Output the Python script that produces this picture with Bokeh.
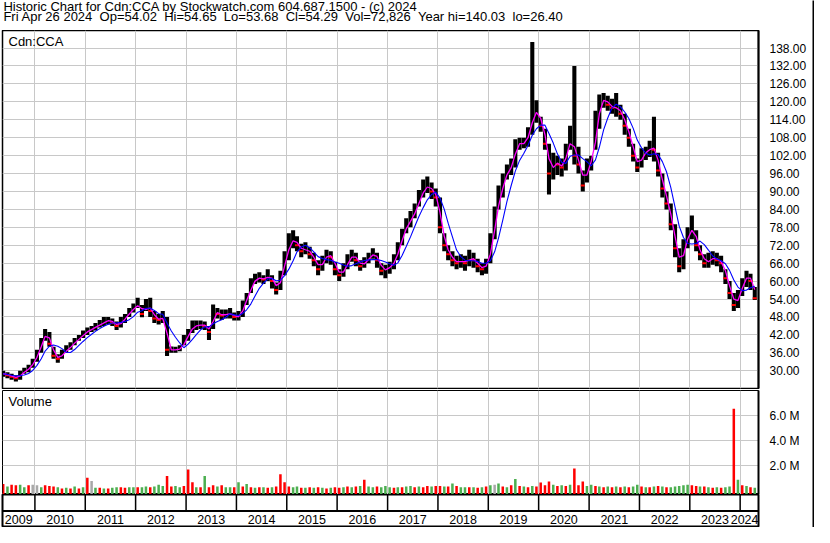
import numpy as np
import pandas as pd
from bokeh.plotting import figure
from bokeh.layouts import column, row
from bokeh.models import (ColumnDataSource, Range1d, FixedTicker, PrintfTickFormatter,
                          Label, Span, Grid)
from bokeh.core.properties import value
from bokeh.embed import file_html
from bokeh.resources import INLINE

# ---------------- data (monthly) ----------------
first_month = "2009-05-01"
last_month = "2024-04-01"

close = [
    29, 28.5, 28, 27.5, 29, 30, 31, 33,
    36, 40, 43, 39, 35, 34, 36, 37, 38.5, 40, 41, 42.5,
    43.5, 44, 45, 45.5, 46.5, 47, 46, 45, 46.5, 48, 50, 51,
    52.5, 49, 52, 50, 47.5, 47, 48, 37, 37, 37, 37.5, 40,
    43, 45, 45, 45.5, 45, 43, 50, 49, 48.5, 49, 49, 48,
    48, 52, 55, 59, 61, 61, 60.5, 62, 60, 57, 62, 68,
    73, 74, 72, 70, 71, 69, 67, 64, 67, 69, 68, 64,
    62, 64, 67, 69, 67, 65, 66.5, 68, 69.5, 67, 63.5, 64,
    65, 67, 71, 76, 79, 81, 84, 88, 91, 92, 90, 88,
    78, 72, 69, 67, 66, 67, 66, 68, 67, 65, 64, 66,
    72, 82, 88, 94, 97, 99, 106, 106, 106, 110, 116, 117,
    112, 106, 96, 100, 99, 98, 104, 108, 102, 99, 92, 99,
    101, 112, 120, 121, 119, 118, 118, 116, 112, 108, 102, 98,
    103, 103, 105, 104, 97, 91, 86, 79, 71, 65, 72, 76,
    78, 72, 69, 66, 67, 68, 67, 66, 61, 56, 52, 55,
    60, 62, 60, 54.29,
]
high = [
    30, 29.5, 29, 28.5, 30, 31, 32, 34,
    37, 41, 44, 43, 38, 35.5, 37, 38.5, 39.5, 41, 42, 43.5,
    44.5, 45, 46, 47, 48, 48, 47.5, 46.5, 48, 49, 51, 52.5,
    54.4, 52, 54, 54.4, 50, 49, 50, 48, 38.1, 38, 38.5, 42,
    44, 46.8, 46.8, 46.8, 46.5, 45, 52.2, 51, 50.5, 50.5, 51, 49.5,
    50, 53.5, 56, 61, 62.5, 63, 62, 64, 62, 59.5, 63.5, 70,
    76, 77, 75, 72.5, 73, 71.5, 69.5, 67, 68.5, 70.5, 70, 66.5,
    64, 66, 69, 70.5, 69.5, 67, 68, 69.5, 71, 69.5, 66, 65.5,
    66.5, 69, 73, 77.5, 81, 83.5, 86, 90.5, 94, 95, 93, 91,
    88, 76, 72, 70, 68.5, 69, 68.5, 70.5, 69.5, 67.5, 66, 67.5,
    76, 85, 92, 96, 99, 101, 107.5, 108, 108, 111.5, 140.03, 120.5,
    115, 111, 106, 103, 102, 101, 106, 112, 132, 105, 97, 101,
    102, 117, 122.5, 123, 122, 121, 123, 119, 116, 111, 106, 101,
    104.5, 105, 107, 115, 103, 96, 90, 86, 79, 71, 74, 78,
    82, 77, 72, 69, 69.5, 70, 69.5, 68.5, 64, 60, 56, 57,
    61, 63.5, 62.5, 58,
]
low = [
    28, 27.5, 27, 26.4, 27, 29, 29.5, 31,
    33, 36, 40, 38, 34, 32.7, 34, 36, 37, 38.5, 40, 41,
    42, 43, 43.5, 44.5, 45, 45.5, 45, 43.6, 44.5, 46, 48, 49.5,
    51, 47.9, 50, 48, 46, 45.5, 46, 34.9, 36, 36, 36.5, 38.5,
    40, 42.6, 43.6, 44, 43.6, 40.3, 44, 47.5, 47, 47.5, 47.5, 46.8,
    46.8, 48, 52, 56, 59, 59.5, 59, 60, 57.5, 55.5, 57, 62,
    67, 71, 70, 68, 69, 67.5, 65, 62, 63.5, 66, 65.5, 62,
    60, 61.5, 64, 66.5, 65, 63.5, 64.5, 66, 67.5, 64.5, 62, 61,
    62.5, 64, 67, 72, 76, 78, 81, 85, 88, 89.5, 87.5, 85,
    76, 70, 67, 65, 64, 64.5, 63.5, 65, 64.5, 63, 62, 62.5,
    66, 74, 84, 88, 94, 95.5, 98, 104, 104.5, 105, 109, 113,
    110, 104, 89, 94, 95.5, 95, 97, 104, 99, 96, 90, 93,
    97, 104, 111, 118, 117, 116, 115, 114, 109, 105, 100, 96.5,
    98, 100.5, 101.5, 100, 95, 88, 84, 77, 68, 63, 64, 71,
    74, 70, 67, 64.5, 64.5, 65.5, 65, 63, 59, 54, 50, 51,
    55, 58, 57, 53.68,
]
volume_m = [
    0.55, 0.35, 0.5, 0.45, 0.5, 0.3, 0.45, 0.5,
    0.45, 0.3, 0.45, 0.4, 0.35, 0.3, 0.2, 0.25, 0.2, 0.35, 0.2, 0.3,
    1.05, 0.8, 0.25, 0.25, 0.2, 0.2, 0.25, 0.3, 0.3, 0.25, 0.3, 0.3,
    0.3, 0.3, 0.35, 0.3, 0.35, 0.5, 0.4, 1.2, 0.35, 0.4, 0.3, 0.4,
    1.7, 0.7, 0.3, 0.3, 1.2, 0.3, 0.45, 0.35, 0.45, 0.3, 0.3, 0.3,
    0.7, 0.35, 0.55, 0.3, 0.25, 0.3, 0.3, 0.25, 0.3, 0.35, 1.34, 0.7,
    0.35, 0.3, 0.35, 0.25, 0.25, 0.3, 0.25, 0.3, 0.25, 0.2, 0.25, 0.3,
    0.25, 0.3, 0.35, 0.3, 0.35, 0.4, 0.9, 0.35, 0.3, 0.35, 0.3, 0.4,
    0.3, 0.25, 0.3, 0.3, 0.35, 0.4, 0.3, 0.35, 0.3, 0.4, 0.35, 0.4,
    0.4, 0.35, 0.35, 0.6, 0.4, 0.3, 0.3, 0.3, 0.3, 0.25, 0.3, 0.35,
    0.45, 0.5, 0.6, 0.35, 0.3, 0.45, 0.95, 0.4, 0.35, 0.3, 0.4, 0.35,
    0.67, 0.45, 0.76, 0.5, 0.4, 0.45, 0.4, 0.5, 1.78, 0.45, 0.75, 0.4,
    0.5, 0.4, 0.35, 0.3, 0.35, 0.3, 0.35, 0.3, 0.35, 0.3, 0.35, 0.5,
    0.35, 0.3, 0.3, 0.35, 0.4, 0.35, 0.3, 0.3, 0.35, 0.4, 0.45, 0.5,
    0.45, 0.4, 0.35, 0.35, 0.3, 0.25, 0.3, 0.25, 0.3, 0.35, 6.54, 0.9,
    0.45, 0.4, 0.3, 0.25,
]
# u = up-day volume (green), d = down-day volume (red), n = unchanged (grey)
volume_dir = [
    "dudduudn",
    "nudddudududu", "dnududuudduu", "duuduuudduud", "ddududduduud",
    "udududududdd", "duududududud", "dudududuuduu", "ududuududdud",
    "dududuududud", "unududududud", "dddudududddu", "udududududuu",
    "dudududuuuuu", "ddudududuudu", "dudu",
]

price_ticks = [30, 36, 42, 48, 54, 60, 66, 72, 78, 84, 90, 96, 102, 108, 114, 120, 126, 132, 138]
volume_ticks = [2, 4, 6]
years = list(range(2009, 2025))

title_1 = "Historic Chart for Cdn:CCA by Stockwatch.com 604.687.1500 - (c) 2024"
title_2_fields = ["Fri Apr 26 2024", "Op=54.02", "Hi=54.65", "Lo=53.68", "Cl=54.29",
                  "Vol=72,826", "Year hi=140.03", "lo=26.40"]

# ---------------- derived ----------------
months = pd.date_range(first_month, last_month, freq="MS")
n = len(months)
vdir = "".join(volume_dir)
assert len(close) == n and len(high) == n and len(low) == n and len(volume_m) == n and len(vdir) == n

def ms(t):
    return pd.Timestamp(t).value / 1e6

DAY = 86400000.0
xc = (months + pd.Timedelta(days=15)).asi8 / 1e6
bar_w = 0.97 * 30.44 * DAY

x_start = ms("2009-05-11")
x_end = ms("2024-05-13")
year_ms = [ms(f"{y}-01-01") for y in years[1:]]

closes = pd.Series(close, dtype=float)
ma_fast = closes.rolling(2, min_periods=1).mean()
ma_slow = closes.rolling(5, min_periods=1).mean()
down = closes < closes.shift(1)

FONT = "Liberation Sans"
GRID = "#c8c8c8"
W = 812
LEFT = 2
RIGHT = 54

def base(height, yr, top=0, bottom=0, yaxis=True):
    f = figure(width=W, height=height, x_range=Range1d(x_start, x_end), y_range=yr,
               output_backend="svg", toolbar_location=None,
               x_axis_location=None, y_axis_location="right" if yaxis else None,
               min_border_left=LEFT, min_border_right=RIGHT,
               min_border_top=top, min_border_bottom=bottom)
    f.grid.grid_line_color = None
    f.outline_line_color = "black"
    f.outline_line_width = 1
    f.background_fill_color = "white"
    f.border_fill_color = "white"
    return f

def style_axis(f, ticks, fmt):
    ax = f.yaxis[0]
    ax.ticker = FixedTicker(ticks=ticks)
    ax.formatter = PrintfTickFormatter(format=fmt)
    ax.axis_line_color = "black"
    ax.axis_line_width = 2
    ax.major_tick_line_color = None
    ax.minor_tick_line_color = None
    ax.major_label_text_font = FONT
    ax.major_label_text_font_size = "12px"
    ax.major_label_text_color = "black"
    ax.major_label_standoff = 5
    f.add_layout(Grid(dimension=1, ticker=FixedTicker(ticks=ticks), grid_line_color=GRID))
    f.add_layout(Grid(dimension=0, ticker=FixedTicker(ticks=year_ms), grid_line_color=GRID))

# ---------------- header ----------------
head = figure(width=W, height=30, x_range=Range1d(0, W), y_range=Range1d(30, 0),
              output_backend="svg", toolbar_location=None,
              x_axis_location=None, y_axis_location=None,
              min_border_left=0, min_border_right=0, min_border_top=0, min_border_bottom=0)
head.grid.grid_line_color = None
head.outline_line_color = None
# two-space separated fields (the second space is non-breaking so it survives in SVG)
title_2 = " \u00a0".join(title_2_fields)
for txt, yy in [(title_1, 5.5), (title_2, 15.8)]:
    head.add_layout(Label(x=1, y=yy, text=txt, text_font=FONT, text_font_size="13px",
                          text_color="black", text_baseline="middle", text_align="left"))

# ---------------- price panel ----------------
p = base(359, Range1d(24.06, 143.88), top=0, bottom=1)
p.outline_line_width = 1.5
style_axis(p, price_ticks, "%.2f")
src = ColumnDataSource(dict(x=xc, h=high, l=low, c=close, f=ma_fast, s=ma_slow))
p.vbar(x="x", width=bar_w, bottom="l", top="h", source=src, fill_color="black", line_color=None)
dsrc = ColumnDataSource(dict(x0=xc[down.values] - bar_w / 2, x1=xc[down.values] + bar_w / 2,
                             c=closes[down].values))
p.segment(x0="x0", x1="x1", y0="c", y1="c", source=dsrc, line_color="#ff0000", line_width=2)
p.line("x", "f", source=src, line_color="#ff00ff", line_width=1.3)
p.line("x", "s", source=src, line_color="#0000ff", line_width=1.1)
p.add_layout(Label(x=x_start, y=143.88, x_offset=6, y_offset=-3, text="Cdn:CCA",
                   text_font=FONT, text_font_size="13px", text_color="black",
                   text_baseline="top"))

# ---------------- volume panel ----------------
vmin = -0.28
v = base(105, Range1d(vmin, 7.99), top=1, bottom=0)
style_axis(v, volume_ticks, "%.1f M")
col_map = {"u": "#4caf50", "d": "#ff0000", "n": "#a8a8a8"}
vsrc = ColumnDataSource(dict(x=xc, v=volume_m, c=[col_map[d] for d in vdir]))
v.vbar(x="x", width=0.6 * 30.44 * DAY, bottom=vmin, top="v", source=vsrc,
       fill_color="c", line_color=None)
v.add_layout(Label(x=x_start, y=7.99, x_offset=6, y_offset=-3, text="Volume",
                   text_font=FONT, text_font_size="13px", text_color="black",
                   text_baseline="top"))

# ---------------- year strip ----------------
s = base(33, Range1d(0, 1), top=0, bottom=0, yaxis=False)
s.outline_line_width = 2
split = 0.5
s.add_layout(Span(location=split, dimension="width", line_color="black", line_width=2))
s.segment(x0=year_ms, x1=year_ms, y0=[split] * len(year_ms), y1=[1] * len(year_ms),
          line_color="black", line_width=1.5)
mids, aligns = [], []
for y in years:
    a = max(ms(f"{y}-01-01"), x_start)
    b = min(ms(f"{y + 1}-01-01"), x_end)
    if b == x_end:
        mids.append(b)
        aligns.append("right")
    else:
        mids.append((a + b) / 2)
        aligns.append("center")
ysrc = ColumnDataSource(dict(x=mids, y=[split / 2] * len(mids), t=[str(y) for y in years], a=aligns))
s.text(x="x", y="y", text="t", source=ysrc, text_align="a",
       text_font=value(FONT), text_font_size=value("12.5px"),
       text_color="black", text_baseline="middle")

# right edge rule of the whole chart
edge = figure(width=2, height=527, output_backend="svg", toolbar_location=None,
              x_axis_location=None, y_axis_location=None,
              min_border_left=0, min_border_right=0, min_border_top=0, min_border_bottom=0)
edge.grid.grid_line_color = None
edge.outline_line_color = None
edge.background_fill_color = "black"
edge.border_fill_color = "black"

layout = row(column(head, p, v, s, spacing=0), edge, spacing=0)
open("out.html", "w").write(file_html(layout, INLINE))
